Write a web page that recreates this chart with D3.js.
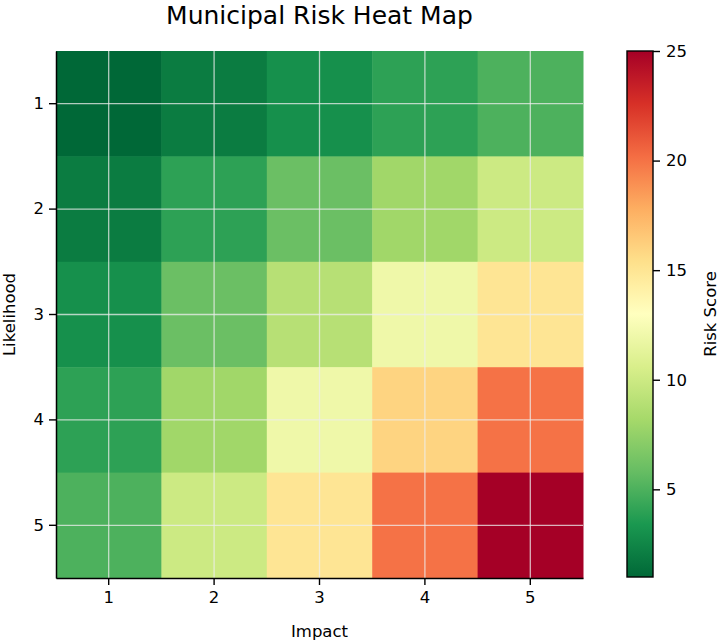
<!DOCTYPE html>
<html>
<head>
<meta charset="utf-8">
<script src="https://cdn.jsdelivr.net/npm/d3@7"></script>
<style>
  body{margin:0;background:#fff;}
  text{font-family:"DejaVu Sans",sans-serif;fill:#000;}
</style>
</head>
<body>
<svg id="chart"></svg>
<script>
// data
var impacts=[1,2,3,4,5];
var likelihoods=[1,2,3,4,5];
var riskScores=[
  [1,2,3,4,5],
  [2,4,6,8,10],
  [3,6,9,12,15],
  [4,8,12,16,20],
  [5,10,15,20,25]
];
var colorbarTicks=[5,10,15,20,25];
var scoreMin=1, scoreMax=25;

// RdYlGn stops (matplotlib), reversed later
var rdylgn=["#a50026","#d73027","#f46d43","#fdae61","#fee08b","#ffffbf","#d9ef8b","#a6d96a","#66bd63","#1a9850","#006837"];

var screen={width:720,height:642};
var plot={left:56,top:51,width:527,height:527};
var cbar={left:627,top:51,width:26,height:526};

var svg=d3.select("#chart")
  .attr("width",screen.width)
  .attr("height",screen.height);

// colour map: value -> RdYlGn_r
var stopsDomain=rdylgn.map(function(c,i){return scoreMax-(scoreMax-scoreMin)*i/(rdylgn.length-1);});
var color=d3.scaleLinear()
  .domain(stopsDomain)
  .range(rdylgn)
  .interpolate(d3.interpolateRgb);

var xScale=d3.scaleBand().domain(impacts).range([0,plot.width]);
var yScale=d3.scaleBand().domain(likelihoods).range([0,plot.height]);

var g=svg.append("g")
  .attr("transform","translate("+plot.left+","+plot.top+")");

// cells
var cells=[];
riskScores.forEach(function(row,i){
  row.forEach(function(v,j){
    cells.push({likelihood:likelihoods[i],impact:impacts[j],score:v});
  });
});

g.selectAll("rect.cell")
  .data(cells)
  .enter()
  .append("rect")
  .classed("cell",true)
  .attr("x",function(d){return xScale(d.impact);})
  .attr("y",function(d){return yScale(d.likelihood);})
  .attr("width",xScale.bandwidth()+0.5)
  .attr("height",yScale.bandwidth()+0.5)
  .attr("fill",function(d){return color(d.score);});

// grid lines at tick centres
g.selectAll("line.vgrid")
  .data(impacts)
  .enter()
  .append("line")
  .attr("x1",function(d){return xScale(d)+xScale.bandwidth()/2;})
  .attr("x2",function(d){return xScale(d)+xScale.bandwidth()/2;})
  .attr("y1",0).attr("y2",plot.height)
  .attr("stroke","#eee").attr("stroke-opacity",0.75).attr("stroke-width",1.3);

g.selectAll("line.hgrid")
  .data(likelihoods)
  .enter()
  .append("line")
  .attr("y1",function(d){return yScale(d)+yScale.bandwidth()/2;})
  .attr("y2",function(d){return yScale(d)+yScale.bandwidth()/2;})
  .attr("x1",0).attr("x2",plot.width)
  .attr("stroke","#eee").attr("stroke-opacity",0.75).attr("stroke-width",1.3);

// axes
var xAxis=d3.axisBottom(xScale).tickSizeInner(7).tickSizeOuter(0).tickPadding(6);
var yAxis=d3.axisLeft(yScale).tickSizeInner(7).tickSizeOuter(0).tickPadding(5);

var xg=g.append("g")
  .attr("transform","translate(0,"+plot.height+")")
  .call(xAxis);
var yg=g.append("g").call(yAxis);

[xg,yg].forEach(function(a){
  a.select(".domain").attr("stroke","#000").attr("stroke-width",1.5);
  a.selectAll(".tick line").attr("stroke","#000").attr("stroke-width",1.4);
  a.selectAll(".tick text").attr("font-size","16.5px").attr("font-family","DejaVu Sans").attr("fill","#000");
});

// titles
svg.append("text")
  .attr("x",plot.left+plot.width/2)
  .attr("y",23.5)
  .attr("text-anchor","middle")
  .attr("font-size","25px")
  .text("Municipal Risk Heat Map");

svg.append("text")
  .attr("x",plot.left+plot.width/2)
  .attr("y",637)
  .attr("text-anchor","middle")
  .attr("font-size","16.5px")
  .text("Impact");

svg.append("text")
  .attr("transform","translate(15,"+(plot.top+plot.height/2)+") rotate(-90)")
  .attr("text-anchor","middle")
  .attr("font-size","16.5px")
  .text("Likelihood");

// colorbar
var defs=svg.append("defs");
var grad=defs.append("linearGradient")
  .attr("id","cbgrad")
  .attr("x1","0").attr("y1","1").attr("x2","0").attr("y2","0");
grad.selectAll("stop")
  .data(d3.range(0,1.0001,0.05))
  .enter()
  .append("stop")
  .attr("offset",function(t){return t;})
  .attr("stop-color",function(t){return color(scoreMin+t*(scoreMax-scoreMin));});

var cScale=d3.scaleLinear().domain([scoreMin,scoreMax]).range([cbar.height,0]);
var cg=svg.append("g").attr("transform","translate("+cbar.left+","+cbar.top+")");
cg.append("rect")
  .attr("width",cbar.width).attr("height",cbar.height)
  .attr("fill","url(#cbgrad)")
  .attr("stroke","#000").attr("stroke-width",1.4);

var cAxis=d3.axisRight(cScale).tickValues(colorbarTicks).tickSizeInner(7).tickSizeOuter(0).tickPadding(6);
var cag=cg.append("g").attr("transform","translate("+cbar.width+",0)").call(cAxis);
cag.select(".domain").remove();
cag.selectAll(".tick line").attr("stroke","#000").attr("stroke-width",1.4);
cag.selectAll(".tick text").attr("font-size","16.5px").attr("font-family","DejaVu Sans").attr("fill","#000");

svg.append("text")
  .attr("transform","translate(716,"+(cbar.top+cbar.height/2)+") rotate(-90)")
  .attr("text-anchor","middle")
  .attr("font-size","16.5px")
  .text("Risk Score");
</script>
</body>
</html>
